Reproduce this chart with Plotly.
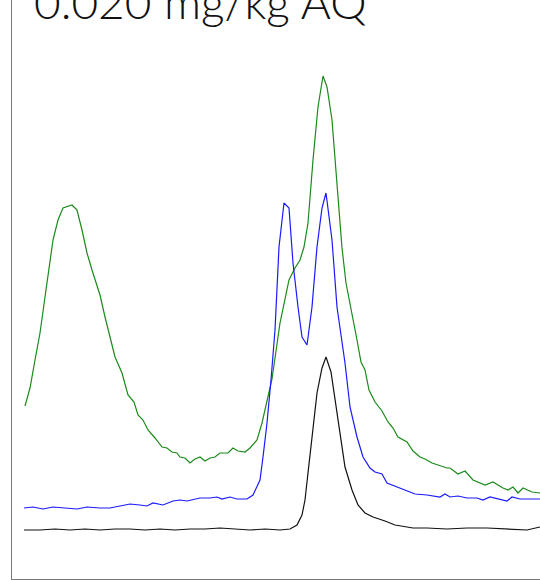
import plotly.graph_objects as go

title_text = "0.020 mg/kg AQ"

black_x = [24, 40, 55, 70, 85, 100, 115, 130, 145, 160, 175, 190, 205, 220, 235, 250, 265, 280, 290, 297, 302, 305, 308, 312, 317, 322, 326, 331, 335, 340, 345, 352, 358, 365, 373, 385, 395, 413, 427, 447, 467, 487, 507, 527, 540]
black_y = [48, 48, 49, 48, 49, 48, 49, 49, 48, 49, 48, 49, 49, 50, 49, 48, 49, 48, 49, 53, 63, 78, 105, 138, 185, 210, 221, 206, 178, 141, 111, 88, 73, 65, 61, 57, 53, 50, 50, 49, 50, 50, 49, 48, 51]

blue_x = [24, 33, 43, 53, 65, 77, 87, 100, 110, 120, 130, 140, 147, 153, 163, 173, 180, 187, 200, 210, 217, 222, 230, 237, 247, 253, 260, 263, 267, 271, 275, 279, 284, 289, 293, 298, 302, 307, 312, 317, 322, 326, 332, 337, 341, 345, 350, 357, 363, 370, 375, 382, 387, 395, 400, 415, 427, 440, 445, 450, 458, 467, 477, 483, 490, 507, 512, 520, 540]
blue_y = [70, 71, 69, 71, 70, 69, 71, 70, 70, 72, 74, 73, 72, 75, 73, 77, 78, 77, 80, 80, 81, 79, 81, 79, 79, 83, 98, 121, 155, 198, 248, 331, 375, 370, 315, 271, 241, 233, 271, 331, 370, 385, 338, 271, 243, 215, 171, 141, 121, 110, 106, 104, 95, 92, 90, 84, 83, 81, 84, 81, 82, 80, 80, 78, 81, 77, 81, 79, 79]

green_x = [25, 30, 35, 40, 45, 50, 53, 58, 63, 72, 77, 82, 87, 92, 97, 100, 105, 110, 115, 122, 128, 134, 138, 143, 148, 155, 162, 167, 172, 177, 180, 185, 190, 195, 200, 205, 210, 215, 220, 228, 233, 238, 245, 250, 257, 262, 267, 272, 280, 285, 289, 295, 300, 304, 308, 313, 318, 323, 327, 332, 337, 342, 346, 352, 357, 361, 365, 369, 375, 382, 388, 393, 398, 407, 413, 420, 425, 432, 440, 447, 450, 458, 465, 473, 485, 493, 503, 508, 513, 518, 523, 532, 540]
green_y = [172, 190, 218, 245, 281, 315, 338, 358, 370, 373, 368, 348, 325, 308, 291, 283, 261, 240, 221, 205, 183, 176, 163, 158, 148, 140, 131, 130, 126, 125, 121, 120, 115, 119, 121, 117, 120, 121, 125, 125, 130, 127, 126, 130, 138, 155, 178, 199, 255, 281, 298, 310, 318, 331, 355, 418, 471, 502, 491, 458, 395, 330, 295, 265, 238, 216, 208, 188, 176, 167, 156, 150, 141, 136, 127, 121, 119, 115, 112, 110, 110, 104, 107, 98, 93, 96, 90, 88, 91, 85, 90, 86, 85]

fig = go.Figure()
fig.add_trace(go.Scatter(x=green_x, y=green_y, mode="lines", line=dict(color="#1a8a1a", width=1.2), hoverinfo="skip"))
fig.add_trace(go.Scatter(x=blue_x, y=blue_y, mode="lines", line=dict(color="#1a1aff", width=1.2), hoverinfo="skip"))
fig.add_trace(go.Scatter(x=black_x, y=black_y, mode="lines", line=dict(color="#111111", width=1.2), hoverinfo="skip"))

fig.update_layout(
    width=540, height=580,
    margin=dict(l=12, r=0, t=0, b=1),
    paper_bgcolor="white", plot_bgcolor="white",
    showlegend=False,
    xaxis=dict(range=[12, 540], showline=True, linecolor="#7a7a7a", linewidth=1.5,
               showgrid=False, zeroline=False, showticklabels=False, ticks=""),
    yaxis=dict(range=[-1, 578], showline=True, linecolor="#7a7a7a", linewidth=1.5,
               showgrid=False, zeroline=False, showticklabels=False, ticks=""),
    annotations=[dict(text=title_text, xref="paper", yref="paper",
                      x=(32 - 12) / 528, y=(579 - 31) / 579, xanchor="left", yanchor="bottom",
                      showarrow=False, font=dict(family="Lato", size=46, weight=300, color="#111111"))],
)

fig.write_html(
    "out.html",
    config={"displayModeBar": False, "staticPlot": True},
    post_script="document.body.style.margin='0';document.documentElement.style.overflow='hidden';",
)
